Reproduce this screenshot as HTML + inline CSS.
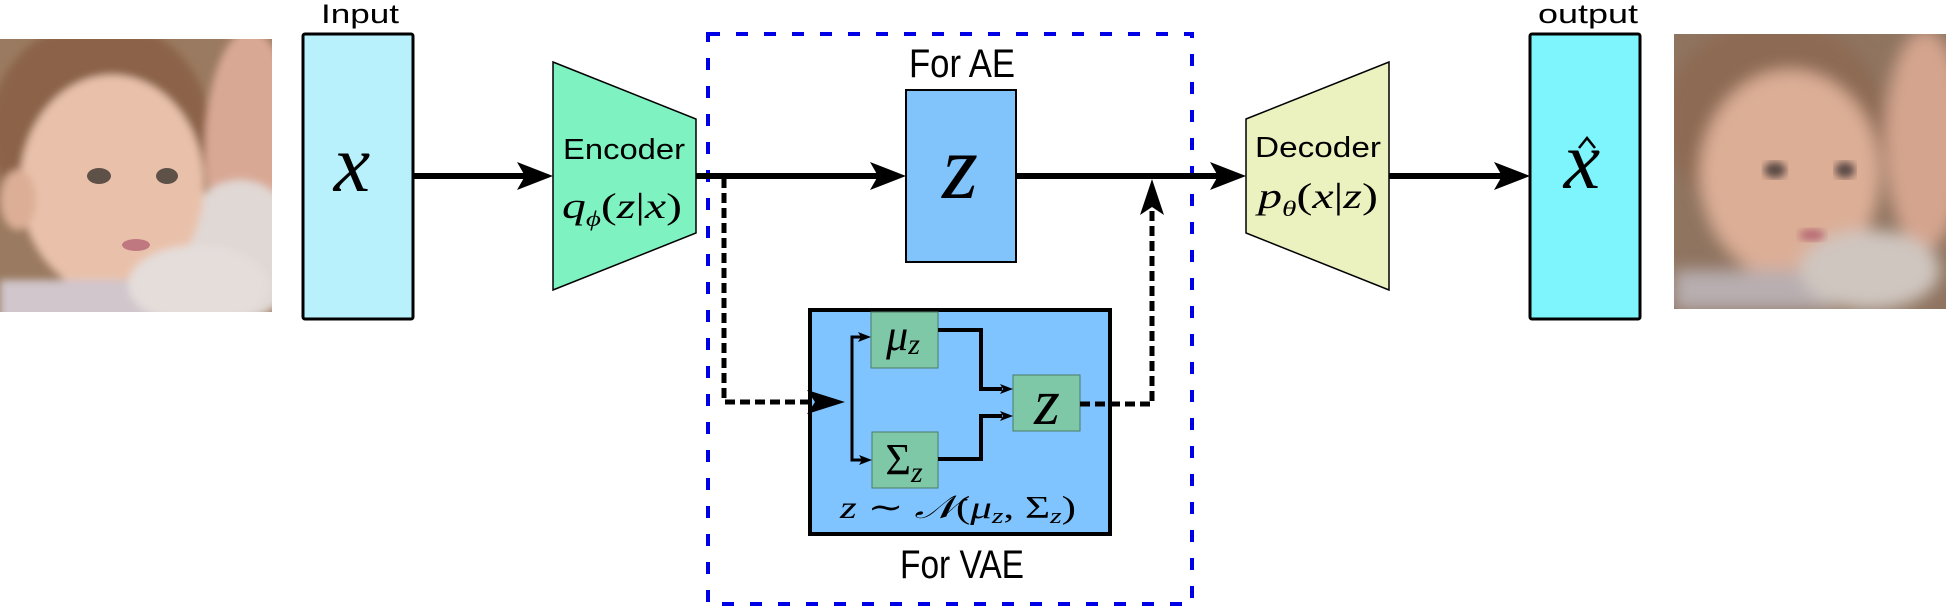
<!DOCTYPE html>
<html><head><meta charset="utf-8"><style>
html,body{margin:0;padding:0;background:#fff;}
svg{display:block;}
text{font-family:"Liberation Sans","DejaVu Sans",sans-serif;}
.m{font-family:"Liberation Serif","DejaVu Serif",serif;font-style:italic;}
</style></head><body>
<svg width="1946" height="606" viewBox="0 0 1946 606" xmlns="http://www.w3.org/2000/svg">
<defs>
<filter id="b1"><feGaussianBlur stdDeviation="4"/></filter>
<filter id="b2"><feGaussianBlur stdDeviation="8"/></filter>
<clipPath id="c1"><rect x="0" y="39" width="272" height="273"/></clipPath>
<clipPath id="c2"><rect x="1674" y="34" width="272" height="275"/></clipPath>
</defs>

<!-- Left face -->
<g clip-path="url(#c1)">
<rect x="0" y="39" width="272" height="273" fill="#9a7a60"/>
<g filter="url(#b1)">
<ellipse cx="100" cy="130" rx="110" ry="110" fill="#8c6448"/>
<ellipse cx="250" cy="150" rx="45" ry="120" fill="#d9a894"/>
<ellipse cx="240" cy="250" rx="60" ry="70" fill="#e0d8d4"/>
<ellipse cx="112" cy="185" rx="92" ry="110" fill="#e9c1aa"/>
<ellipse cx="18" cy="200" rx="18" ry="30" fill="#dcae96"/>
<rect x="0" y="280" width="160" height="40" fill="#d0c6cc"/>
<ellipse cx="198" cy="285" rx="70" ry="40" fill="#e4ddda"/>
</g>
<ellipse cx="99" cy="176" rx="12" ry="8" fill="#5e5248"/>
<ellipse cx="167" cy="176" rx="11" ry="8" fill="#5e5248"/>
<ellipse cx="136" cy="245" rx="14" ry="6" fill="#c07880"/>
</g>

<!-- Right face -->
<g clip-path="url(#c2)">
<rect x="1674" y="34" width="272" height="275" fill="#8f7460"/>
<g filter="url(#b2)">
<ellipse cx="1774" cy="120" rx="110" ry="100" fill="#8d6a52"/>
<ellipse cx="1925" cy="140" rx="40" ry="110" fill="#d4a48e"/>
<ellipse cx="1790" cy="175" rx="90" ry="105" fill="#dcae96"/>
<rect x="1674" y="270" width="160" height="40" fill="#b8aeb0"/>
<ellipse cx="1870" cy="270" rx="70" ry="40" fill="#cfc6c0"/>
</g>
<ellipse cx="1775" cy="170" rx="11" ry="8" fill="#5a4a44" filter="url(#b1)"/>
<ellipse cx="1845" cy="170" rx="10" ry="8" fill="#5a4a44" filter="url(#b1)"/>
<ellipse cx="1812" cy="235" rx="13" ry="6" fill="#b86c74" filter="url(#b1)"/>
</g>

<!-- Input -->
<text x="360" y="23" font-size="27" text-anchor="middle" textLength="78" lengthAdjust="spacingAndGlyphs">Input</text>
<rect x="303" y="34" width="110" height="285" rx="2" fill="#b8f0fc" stroke="#000" stroke-width="3"/>
<text class="m" x="352" y="191" font-size="82" text-anchor="middle">x</text>

<!-- arrow input->encoder -->
<line x1="413" y1="176" x2="530" y2="176" stroke="#000" stroke-width="6"/>
<polygon points="553,176 517,162 525,176 517,190" fill="#000"/>

<!-- Encoder -->
<polygon points="553,62 696,119 696,233 553,290" fill="#7ef2c0" stroke="#000" stroke-width="1.5"/>
<text x="624" y="159" font-size="29" text-anchor="middle" textLength="122" lengthAdjust="spacingAndGlyphs">Encoder</text>
<text class="m" x="622" y="218" font-size="36" text-anchor="middle" textLength="120" lengthAdjust="spacingAndGlyphs">q<tspan font-size="22" dy="8">ϕ</tspan><tspan dy="-8" font-style="normal">(</tspan>z<tspan font-style="normal">|</tspan>x<tspan font-style="normal">)</tspan></text>

<!-- Blue dashed box -->
<rect x="708" y="34" width="484" height="570" fill="none" stroke="#0000e8" stroke-width="4" stroke-dasharray="12,16"/>

<text x="962" y="77" font-size="40" text-anchor="middle" textLength="106" lengthAdjust="spacingAndGlyphs">For AE</text>

<!-- main arrow encoder -> z -->
<line x1="696" y1="176" x2="884" y2="176" stroke="#000" stroke-width="6"/>
<polygon points="906,176 870,162 878,176 870,190" fill="#000"/>

<!-- AE z box -->
<rect x="906" y="90" width="110" height="172" fill="#80c4fb" stroke="#000" stroke-width="2"/>
<text class="m" x="960" y="198" font-size="92" text-anchor="middle">z</text>

<!-- main line z -> decoder -->
<line x1="1016" y1="176" x2="1225" y2="176" stroke="#000" stroke-width="6"/>
<polygon points="1246,176 1210,162 1218,176 1210,190" fill="#000"/>

<!-- VAE box -->
<rect x="810" y="310" width="300" height="224" fill="#80c4ff" stroke="#000" stroke-width="4"/>

<!-- dashed from encoder down to VAE -->
<polyline points="724,178 724,402 825,402" fill="none" stroke="#000" stroke-width="5" stroke-dasharray="10,5"/>
<polygon points="845,402 807,390 815,402 807,414" fill="#000"/>

<rect x="871" y="312" width="67" height="56" fill="#7ec8a8" stroke="#4a7a66" stroke-width="1"/>
<rect x="872" y="432" width="66" height="56" fill="#7ec8a8" stroke="#4a7a66" stroke-width="1"/>
<rect x="1013" y="375" width="67" height="56" fill="#7ec8a8" stroke="#4a7a66" stroke-width="1"/>
<text class="m" x="903" y="350" font-size="44" text-anchor="middle">μ<tspan font-size="30" dy="4">z</tspan></text>
<text class="m" x="904" y="474" font-size="44" text-anchor="middle"><tspan font-style="normal">Σ</tspan><tspan font-size="30" dy="8">z</tspan></text>
<text class="m" x="1047" y="424" font-size="66" text-anchor="middle">z</text>
<text class="m" x="958" y="518" font-size="32" text-anchor="middle" textLength="236" lengthAdjust="spacingAndGlyphs">z <tspan font-style="normal">∼</tspan> 𝒩<tspan font-style="normal">(</tspan>μ<tspan font-size="22" dy="5">z</tspan><tspan dy="-5" font-style="normal">, Σ</tspan><tspan font-size="22" dy="5">z</tspan><tspan dy="-5" font-style="normal">)</tspan></text>

<!-- branch -->
<polyline points="862,337 852,337 852,460 862,460" fill="none" stroke="#000" stroke-width="3"/>
<polygon points="871,337 858,332 861,337 858,342" fill="#000"/>
<polygon points="872,460 859,455 862,460 859,465" fill="#000"/>
<polyline points="938,330 981,330 981,389 1002,389" fill="none" stroke="#000" stroke-width="4"/>
<polygon points="1013,389 1000,384 1003,389 1000,394" fill="#000"/>
<polyline points="938,459 981,459 981,416 1002,416" fill="none" stroke="#000" stroke-width="4"/>
<polygon points="1013,416 1000,411 1003,416 1000,421" fill="#000"/>

<!-- dashed from z up -->
<polyline points="1080,404 1152,404 1152,200" fill="none" stroke="#000" stroke-width="5" stroke-dasharray="10,5"/>
<polygon points="1152,179 1140,215 1152,207 1164,215" fill="#000"/>

<text x="962" y="578" font-size="40" text-anchor="middle" textLength="124" lengthAdjust="spacingAndGlyphs">For VAE</text>

<!-- Decoder -->
<polygon points="1246,119 1389,62 1389,290 1246,233" fill="#ebf2c0" stroke="#000" stroke-width="1.5"/>
<text x="1318" y="157" font-size="29" text-anchor="middle" textLength="126" lengthAdjust="spacingAndGlyphs">Decoder</text>
<text class="m" x="1318" y="208" font-size="36" text-anchor="middle" textLength="120" lengthAdjust="spacingAndGlyphs">p<tspan font-size="22" dy="8">θ</tspan><tspan dy="-8" font-style="normal">(</tspan>x<tspan font-style="normal">|</tspan>z<tspan font-style="normal">)</tspan></text>

<line x1="1389" y1="176" x2="1508" y2="176" stroke="#000" stroke-width="6"/>
<polygon points="1530,176 1494,162 1502,176 1494,190" fill="#000"/>

<!-- output -->
<text x="1588" y="23" font-size="27" text-anchor="middle" textLength="100" lengthAdjust="spacingAndGlyphs">output</text>
<rect x="1530" y="34" width="110" height="285" rx="2" fill="#7ef4fc" stroke="#000" stroke-width="3"/>
<text class="m" x="1582" y="188" font-size="82" text-anchor="middle">x</text>
<polyline points="1579,148 1587,138 1595,148" fill="none" stroke="#000" stroke-width="2.5"/>
</svg>
</body></html>
